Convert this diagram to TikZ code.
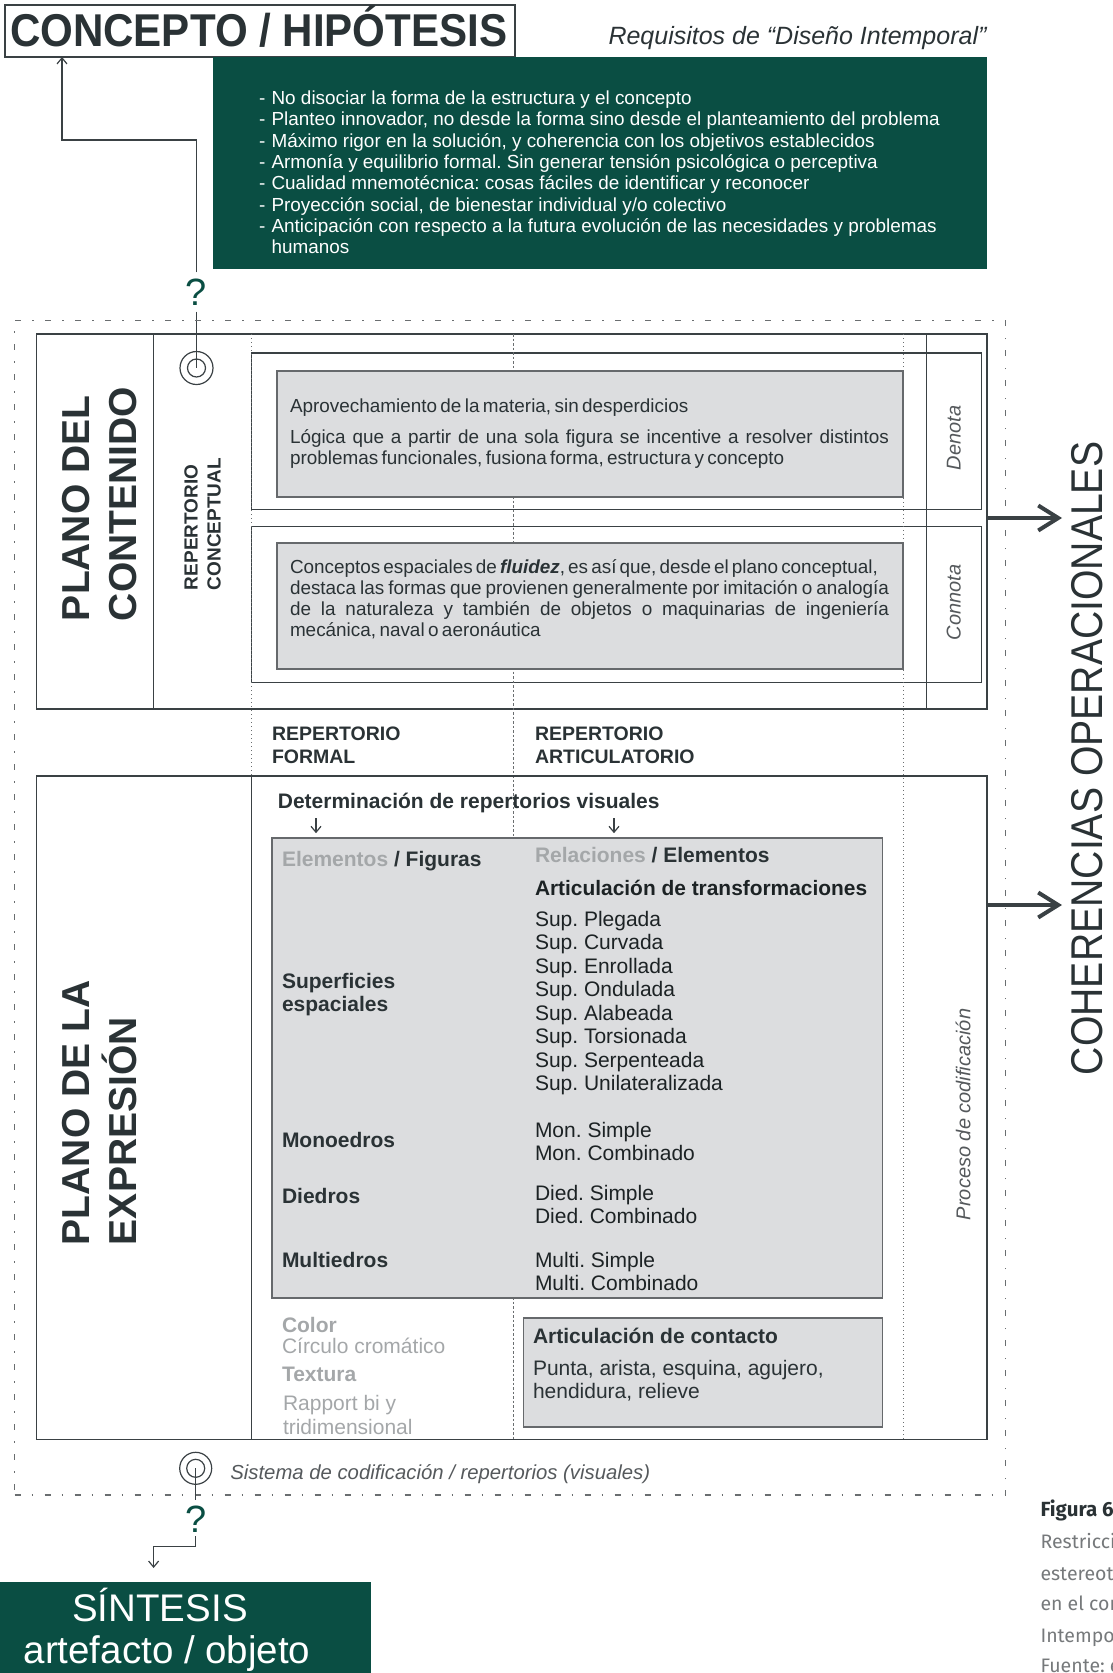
\documentclass[tikz,border=0pt]{standalone}
\usepackage{fontspec}
\setmainfont{Liberation Sans}
\newfontfamily\capfont{Fira Sans}
\usetikzlibrary{arrows.meta}
\definecolor{linec}{HTML}{3A4144}
\definecolor{textc}{HTML}{2A3235}
\definecolor{darkt}{HTML}{1C2224}
\definecolor{grn}{HTML}{0A4E43}
\definecolor{grayf}{HTML}{DCDDDF}
\definecolor{grayb}{HTML}{66696C}
\definecolor{lightt}{HTML}{A4A7A9}
\definecolor{midt}{HTML}{55595C}
\definecolor{dotc}{HTML}{6A6E70}
\definecolor{capc}{HTML}{76797B}
\newcommand{\fsz}[2]{\fontsize{#1}{#2}\selectfont}
\newcommand{\jl}[2]{\makebox[#1][s]{#2}}
\newcommand{\tightsp}{\spaceskip=0.18em plus 0.5em minus 0.05em\relax}
\frenchspacing
\begin{document}
\begin{tikzpicture}[x=1pt,y=-1pt,
  frm/.style={draw=linec, line width=1.4pt, inner sep=0pt, outer sep=0pt, anchor=north west},
  grayboxst/.style={draw=grayb, line width=1.8pt, fill=grayf, inner sep=0pt, outer sep=0pt, anchor=north west},
  txt/.style={inner sep=0pt, outer sep=0pt, anchor=base west, text=textc},
  rtxt/.style={txt, rotate=90},
  thinline/.style={draw=linec, line width=1.2pt},
  thinarrow/.style={draw=linec, line width=1.2pt, -{Straight Barb[length=6pt,width=10pt]}},
  bigarrow/.style={draw=linec, line width=4pt, -{Straight Barb[length=20pt,width=25pt]}},
  dotline/.style={draw=dotc, line width=1pt, dash pattern=on 1pt off 3pt},
  dashdotline/.style={draw=dotc, line width=1pt, dash pattern=on 2.5pt off 2pt},
  outerframe/.style={draw=dotc, line width=1.1pt, dash pattern=on 6pt off 11pt on 1.5pt off 11.5pt},
  ring/.style={circle, draw=linec, line width=1.2pt, inner sep=0pt, outer sep=0pt},
]
\useasboundingbox (0,0) rectangle (1112,1673);
\clip (0,0) rectangle (1112,1673);

% ---------- top ----------
\node[frm, minimum width=510pt, minimum height=52pt] (concepto) at (5,5) {};
\node[txt] (conceptotxt) at (10,46.7) {\scalebox{0.915}[1]{\fsz{46}{46}\bfseries CONCEPTO / HIPÓTESIS}};
\node[txt] (requisitos) at (608.5,44) {\fsz{25}{25}\itshape Requisitos de “Diseño Intemporal”};
\node[fill=grn, inner sep=0pt, outer sep=0pt, anchor=north west, minimum width=774pt, minimum height=212.6pt] (greenbox) at (213,56.7) {};
\node[txt, text=white] (reqlist) at (259,104.5) {\parbox[t]{720pt}{\fsz{18.9}{21.33}%
\makebox[12.6pt][l]{-}No disociar la forma de la estructura y el concepto\\
\makebox[12.6pt][l]{-}Planteo innovador, no desde la forma sino desde el planteamiento del problema\\
\makebox[12.6pt][l]{-}Máximo rigor en la solución, y coherencia con los objetivos establecidos\\
\makebox[12.6pt][l]{-}Armonía y equilibrio formal. Sin generar tensión psicológica o perceptiva\\
\makebox[12.6pt][l]{-}Cualidad mnemotécnica: cosas fáciles de identificar y reconocer\\
\makebox[12.6pt][l]{-}Proyección social, de bienestar individual y/o colectivo\\
\makebox[12.6pt][l]{-}Anticipación con respecto a la futura evolución de las necesidades y problemas\\
\hspace*{12.6pt}humanos}};

\node[inner sep=0pt, outer sep=0pt, anchor=base, text=grn] (q1) at (196.5,305) {\fsz{38}{38}?};
\node[ring, minimum size=33pt] (circ1) at (196.5,368) {};
\node[ring, minimum size=18pt] (circ1in) at (circ1.center) {};
\coordinate (elbowA) at (62,140);
\draw[thinarrow] ([yshift=6pt]q1.north) |- (elbowA) -- (elbowA |- concepto.south);
\draw[thinline] ([yshift=-6.5pt]q1.south) -- (circ1.center);

% ---------- dash-dot frame ----------
\node[outerframe, inner sep=0pt, outer sep=0pt, anchor=north west, minimum width=991pt, minimum height=1174.3pt] (frame) at (14.5,320.7) {};

% ---------- upper box ----------
\node[frm, minimum width=950.5pt, minimum height=375pt] (upper) at (36.5,334) {};
\draw[thinline] (153.5,334) -- (153.5,709);
\draw[thinline] (926.5,334) -- (926.5,709);
\node[frm, line width=1.3pt, minimum width=729.6pt, minimum height=156.3pt] (denbox) at (251.7,353) {};
\node[frm, line width=1.3pt, minimum width=729.6pt, minimum height=155.6pt] (conbox) at (251.7,526.7) {};

% dotted guides
\draw[dotline] (251.7,334) -- (251.7,776);
\draw[dashdotline] (513.7,334) -- (513.7,1439.3);
\draw[dotline] (903,334) -- (903,1439.3);

\node[grayboxst, minimum width=625.7pt, minimum height=126pt] (gray1) at (277.3,370.7) {};
\node[grayboxst, minimum width=625.7pt, minimum height=126pt] (gray2) at (277.3,543.3) {};

\node[txt] (a1) at (290,412) {\fsz{18.9}{21.33}\tightsp Aprovechamiento de la materia, sin desperdicios};
\node[txt] (a2) at (290,443) {\parbox[t]{620pt}{\fsz{18.9}{21.33}\tightsp
\jl{599pt}{Lógica que a partir de una sola figura se incentive a resolver distintos}\\
problemas funcionales, fusiona forma, estructura y concepto}};
\node[txt] (b1) at (290,573) {\parbox[t]{620pt}{\fsz{18.9}{21.33}\tightsp
\jl{588pt}{Conceptos espaciales de \textbf{\textit{fluidez}}, es así que, desde el plano conceptual,}\\
\jl{599pt}{destaca las formas que provienen generalmente por imitación o analogía}\\
\jl{599pt}{de la naturaleza y también de objetos o maquinarias de ingeniería}\\
mecánica, naval o aeronáutica}};

\node[rtxt] (plano1) at (89.6,621) {\parbox[t]{300pt}{\fsz{39}{46.5}\bfseries PLANO DEL\\CONTENIDO}};
\node[rtxt] (repc) at (197.5,590) {\parbox[t]{200pt}{\fsz{19}{23}\bfseries REPERTORIO\\CONCEPTUAL}};
\node[rtxt, text=midt] (denota) at (960.6,470) {\fsz{20}{20}\itshape Denota};
\node[rtxt, text=midt] (connota) at (960.6,640) {\fsz{20}{20}\itshape Connota};

% ---------- middle labels ----------
\node[txt] (repf) at (272,740.7) {\parbox[t]{200pt}{\fsz{19.5}{22.6}\bfseries REPERTORIO\\FORMAL}};
\node[txt] (repa) at (535,740.7) {\parbox[t]{250pt}{\fsz{19.5}{22.6}\bfseries REPERTORIO\\ARTICULATORIO}};

% ---------- lower box ----------
\node[frm, minimum width=950.5pt, minimum height=663.3pt] (lower) at (36.5,776) {};
\draw[thinline] (251.8,776) -- (251.8,1439.3);
\node[grayboxst, minimum width=610.5pt, minimum height=460.6pt] (biggray) at (272,837.7) {};
\node[grayboxst, minimum width=359.1pt, minimum height=108.4pt] (contact) at (523.4,1318.3) {};

\node[rtxt] (plano2) at (89.6,1245) {\parbox[t]{300pt}{\fsz{39}{46.5}\bfseries PLANO DE LA\\EXPRESIÓN}};
\node[txt] (determ) at (277.9,808.3) {\fsz{21}{21}\bfseries Determinación de repertorios visuales};
\coordinate (detA) at (316,818);
\coordinate (detB) at (614,818);
\draw[thinarrow, shorten >=4.5pt] (detA) -- (detA |- biggray.north);
\draw[thinarrow, shorten >=4.5pt] (detB) -- (detB |- biggray.north);

\node[txt] (elfig) at (282,866) {\fsz{21}{21}\bfseries\textcolor{lightt}{Elementos} / Figuras};
\node[txt] (relel) at (535,862) {\fsz{21}{21}\bfseries\textcolor{lightt}{Relaciones} / Elementos};
\node[txt, text=darkt] (arttr) at (535,895) {\fsz{20.9}{20.9}\bfseries Articulación de transformaciones};
\node[txt, text=darkt] (suplist) at (535,926) {\parbox[t]{300pt}{\fsz{21}{23.5}%
Sup. Plegada\\Sup. Curvada\\Sup. Enrollada\\Sup. Ondulada\\Sup. Alabeada\\Sup. Torsionada\\Sup. Serpenteada\\Sup. Unilateralizada}};
\node[txt, text=darkt] (monl) at (535,1137) {\parbox[t]{300pt}{\fsz{21}{23.5}Mon. Simple\\Mon. Combinado}};
\node[txt, text=darkt] (diedl) at (535,1200) {\parbox[t]{300pt}{\fsz{21}{23.5}Died. Simple\\Died. Combinado}};
\node[txt, text=darkt] (multl) at (535,1267) {\parbox[t]{300pt}{\fsz{21}{23.5}Multi. Simple\\Multi. Combinado}};

\node[txt] (superf) at (282,988.3) {\parbox[t]{200pt}{\fsz{21}{23.4}\bfseries Superficies\\espaciales}};
\node[txt] (monoe) at (282,1147) {\fsz{21}{21}\bfseries Monoedros};
\node[txt] (diedros) at (282,1203) {\fsz{21}{21}\bfseries Diedros};
\node[txt] (multie) at (282,1267) {\fsz{21}{21}\bfseries Multiedros};

\node[txt, text=lightt] (colorl) at (282,1332.5) {\fsz{21}{21}\bfseries Color};
\node[txt, text=lightt] (circl) at (282,1353) {\fsz{21}{21}Círculo cromático};
\node[txt, text=lightt] (textl) at (282,1381.6) {\fsz{21}{21}\bfseries Textura};
\node[txt, text=lightt] (rapl) at (283,1410.5) {\parbox[t]{200pt}{\fsz{21}{23.5}Rapport bi y\\tridimensional}};

\node[txt] (artcont) at (533,1343.3) {\fsz{21}{21}\bfseries Articulación de contacto};
\node[txt] (punta) at (533,1375) {\parbox[t]{340pt}{\fsz{21}{23.3}Punta, arista, esquina, agujero,\\hendidura, relieve}};

\node[rtxt, text=midt] (proceso) at (970.3,1220) {\fsz{20}{20}\itshape Proceso de codificación};

% ---------- bottom ----------
\node[ring, minimum size=32pt] (circ2) at (195.7,1468.3) {};
\node[ring, minimum size=18pt] (circ2in) at (circ2.center) {};
\node[txt, text=midt] (sistema) at (230.4,1479.5) {\fsz{20.3}{20.3}\itshape Sistema de codificación / repertorios (visuales)};
\node[inner sep=0pt, outer sep=0pt, anchor=base, text=grn] (q2) at (195.7,1532) {\fsz{38}{38}?};
\coordinate (elbowB) at (153.6,1546.7);
\coordinate (tipB) at (153.6,1568);
\draw[thinline] (circ2.center) -- ([yshift=5pt]q2.north);
\draw[thinarrow] ([yshift=-4pt]q2.south) |- (elbowB) -- (tipB);

\node[fill=grn, inner sep=0pt, outer sep=0pt, anchor=north west, minimum width=371.4pt, minimum height=100pt] (synth) at (0,1581.7) {};
\node[inner sep=0pt, outer sep=0pt, anchor=base, text=white] (sintesis) at (160,1621) {\fsz{38.5}{38.5}SÍNTESIS};
\node[inner sep=0pt, outer sep=0pt, anchor=base, text=white] (artefacto) at (167,1663) {\fsz{38.5}{38.5}artefacto / objeto};

% ---------- right side ----------
\node[rtxt] (coh) at (1102,1075) {\scalebox{0.88}[1]{\fsz{44.5}{44.5}COHERENCIAS OPERACIONALES}};
\coordinate (cohA) at (1062,518);
\coordinate (cohB) at (1062,905);
\draw[bigarrow] (upper.east |- cohA) -- (cohA);
\draw[bigarrow] (lower.east |- cohB) -- (cohB);

% ---------- caption (cut by the page edge) ----------
\node[txt, text=textc] (fig) at (1040.5,1516) {\capfont\fsz{20.5}{20.5}\bfseries Figura 6};
\node[txt, text=capc] (cap1) at (1040.5,1548) {\capfont\fsz{19.5}{19.5}Restricci};
\node[txt, text=capc] (cap2) at (1040.5,1580) {\capfont\fsz{19.5}{19.5}estereoto};
\node[txt, text=capc] (cap3) at (1040.5,1610) {\capfont\fsz{19.5}{19.5}en el con};
\node[txt, text=capc] (cap4) at (1040.5,1642) {\capfont\fsz{19.5}{19.5}Intempor};
\node[txt, text=capc] (cap5) at (1040.5,1672) {\capfont\fsz{19.5}{19.5}Fuente: e};
\end{tikzpicture}
\end{document}
